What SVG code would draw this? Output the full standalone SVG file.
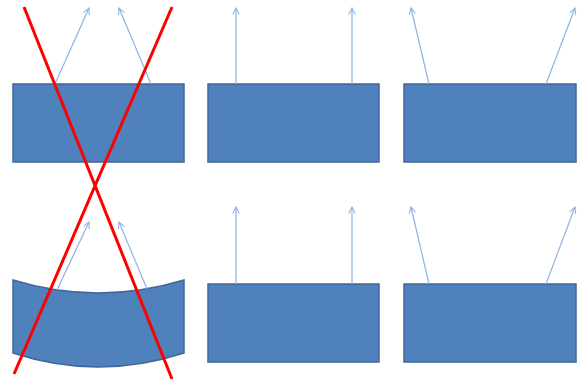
<svg xmlns="http://www.w3.org/2000/svg" width="582" height="383" viewBox="0 0 582 383">
<style>
.box{fill:#4F81BD;stroke:#3F6797;stroke-width:1.5}
.ray{stroke:#8DB3E2;stroke-width:1.2;fill:none;marker-end:url(#ah)}
.cross{stroke:#FF0000;stroke-width:3;fill:none}
</style>
<defs>
<marker id="ah" viewBox="0 0 10 10" refX="9" refY="5" markerWidth="8" markerHeight="8" markerUnits="userSpaceOnUse" orient="auto">
<path d="M1,1 L9,5 L1,9" fill="none" stroke="#8DB3E2" stroke-width="1.3"/>
</marker>
</defs>
<rect width="582" height="383" fill="#fff"/>
<g id="node-top-left"><rect class="box" x="13" y="84" width="171" height="78"/></g>
<g id="node-top-mid"><rect class="box" x="208" y="84" width="171" height="78"/></g>
<g id="node-top-right"><rect class="box" x="404" y="84" width="172" height="78"/></g>
<g id="node-bottom-left"><path class="box" d="M13,280 Q98,306 184,280 L184,353 Q98,381 13,353 Z"/></g>
<g id="node-bottom-mid"><rect class="box" x="208" y="284" width="171" height="78"/></g>
<g id="node-bottom-right"><rect class="box" x="404" y="284" width="172" height="78"/></g>
<g id="connectors">
<line class="ray" x1="55" y1="84" x2="89" y2="8"/>
<line class="ray" x1="151" y1="84" x2="119" y2="8"/>
<line class="ray" x1="236" y1="84" x2="236" y2="8"/>
<line class="ray" x1="352" y1="84" x2="352" y2="8"/>
<line class="ray" x1="429" y1="84" x2="411" y2="8"/>
<line class="ray" x1="546" y1="84" x2="575" y2="8"/>
<line class="ray" x1="57" y1="290" x2="89" y2="222"/>
<line class="ray" x1="147" y1="289" x2="119" y2="222"/>
<line class="ray" x1="236" y1="284" x2="236" y2="207"/>
<line class="ray" x1="352" y1="284" x2="352" y2="207"/>
<line class="ray" x1="429" y1="284" x2="411" y2="207"/>
<line class="ray" x1="546" y1="284" x2="575" y2="207"/>
<line class="cross" x1="24" y1="7" x2="172" y2="379"/>
<line class="cross" x1="172" y1="7" x2="14" y2="374"/>
</g>
</svg>
